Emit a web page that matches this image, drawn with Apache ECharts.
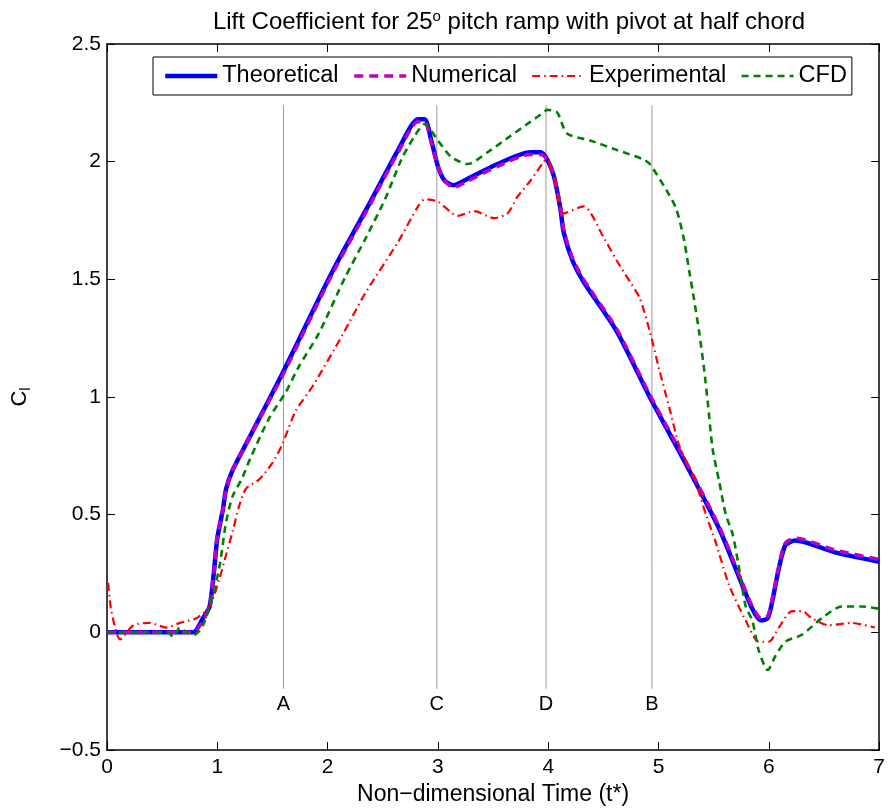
<!DOCTYPE html>
<html><head><meta charset="utf-8">
<script src="https://cdn.jsdelivr.net/npm/echarts@6/dist/echarts.min.js"></script>
<style>html,body{margin:0;padding:0;background:#fff}#c{width:888px;height:811px}</style>
</head><body><div id="c"></div>
<script>
const theoT = [0,0.5,0.78,0.87,0.93,0.97,1.0,1.05,1.08,1.14,1.26,1.59,2.04,2.40,2.64,2.82,2.88,2.94,3.0,3.06,3.14,3.24,3.54,3.84,3.93,3.99,4.05,4.11,4.14,4.22,4.32,4.62,4.92,5.22,5.55,5.70,5.85,5.93,5.99,6.03,6.09,6.15,6.24,6.60,7.0];
const theoY = [0,0,0,0.06,0.11,0.26,0.40,0.52,0.61,0.69,0.80,1.10,1.53,1.84,2.05,2.18,2.18,2.09,1.98,1.92,1.90,1.92,1.99,2.04,2.04,2.01,1.94,1.80,1.70,1.58,1.49,1.28,1.0,0.74,0.44,0.27,0.10,0.05,0.06,0.13,0.27,0.37,0.39,0.34,0.30];

const numT = [0,0.5,0.78,0.87,0.93,0.97,1.0,1.05,1.08,1.14,1.26,1.59,2.04,2.40,2.64,2.82,2.88,2.94,3.0,3.06,3.14,3.24,3.54,3.84,3.93,3.99,4.05,4.11,4.14,4.22,4.32,4.62,4.92,5.22,5.55,5.70,5.85,5.93,5.99,6.03,6.09,6.15,6.24,6.60,7.0];
const numY = [0,0,0,0.05,0.11,0.26,0.41,0.52,0.61,0.69,0.80,1.09,1.52,1.83,2.04,2.17,2.17,2.08,1.98,1.92,1.89,1.91,1.98,2.03,2.03,2.01,1.94,1.81,1.71,1.59,1.50,1.29,1.01,0.75,0.45,0.28,0.11,0.06,0.07,0.14,0.28,0.38,0.40,0.35,0.31];

const expT = [0.01,0.04,0.12,0.24,0.39,0.54,0.66,0.81,0.93,1.02,1.08,1.14,1.20,1.26,1.38,1.50,1.59,1.71,1.87,2.13,2.34,2.64,2.82,2.88,3.0,3.18,3.33,3.51,3.63,3.72,3.84,3.96,3.99,4.05,4.14,4.32,4.50,4.62,4.74,4.83,4.92,5.01,5.10,5.19,5.32,5.43,5.52,5.64,5.79,5.91,6.0,6.09,6.21,6.30,6.39,6.54,6.75,6.96];
const expY = [0.21,0.09,-0.03,0.03,0.04,0.02,0.04,0.06,0.11,0.23,0.33,0.43,0.54,0.61,0.65,0.72,0.80,0.94,1.05,1.26,1.44,1.66,1.81,1.84,1.83,1.77,1.79,1.76,1.78,1.85,1.92,2.0,2.01,1.94,1.78,1.81,1.68,1.58,1.49,1.42,1.28,1.11,0.95,0.79,0.66,0.50,0.38,0.20,0.05,-0.04,-0.04,0.02,0.09,0.09,0.06,0.03,0.04,0.02];

const cfdT = [0,0.3,0.55,0.6,0.66,0.72,0.79,0.87,0.96,1.02,1.08,1.14,1.22,1.30,1.47,1.62,1.74,1.92,2.16,2.34,2.52,2.67,2.79,2.88,3.0,3.12,3.27,3.45,3.66,3.84,3.96,3.99,4.08,4.17,4.38,4.62,4.86,4.92,5.07,5.16,5.23,5.28,5.32,5.37,5.41,5.45,5.49,5.55,5.61,5.67,5.72,5.79,5.85,5.91,5.99,6.06,6.15,6.30,6.48,6.66,6.84,7.0];
const cfdY = [0,0,0,-0.02,0.02,0.0,-0.01,0.03,0.16,0.28,0.47,0.58,0.65,0.74,0.91,1.02,1.13,1.27,1.51,1.67,1.84,2.01,2.11,2.16,2.09,2.02,1.99,2.04,2.11,2.17,2.21,2.22,2.21,2.12,2.09,2.05,2.01,1.99,1.88,1.80,1.67,1.53,1.42,1.27,1.13,0.96,0.78,0.64,0.50,0.42,0.30,0.11,0.05,-0.08,-0.16,-0.10,-0.04,-0.01,0.06,0.11,0.11,0.10];

const markerT = [1.6, 2.99, 3.98, 4.94];
const markerNames = ['A', 'C', 'D', 'B'];
const markerTop = 2.24, markerBottom = -0.24, markerLabelY = -0.305;

const FONT = 'Liberation Sans';
const zip = (a, b) => a.map((v, i) => [v, b[i]]);

const series = [
  { name: 'Theoretical', type: 'line', data: zip(theoT, theoY), showSymbol: false, symbol: 'none', smooth: 0.25,
    lineStyle: { color: '#0000FF', width: 4.5 }, itemStyle: { color: '#0000FF' }, z: 3 },
  { name: 'Numerical', type: 'line', data: zip(numT, numY), showSymbol: false, symbol: 'none', smooth: 0.25,
    lineStyle: { color: '#BF00BF', width: 3.5, type: [9, 6] }, itemStyle: { color: '#BF00BF' }, z: 4 },
  { name: 'Experimental', type: 'line', data: zip(expT, expY), showSymbol: false, symbol: 'none', smooth: 0.25,
    lineStyle: { color: '#FF0000', width: 2.2, type: [8, 4, 1.5, 4] }, itemStyle: { color: '#FF0000' }, z: 5 },
  { name: 'CFD', type: 'line', data: zip(cfdT, cfdY), showSymbol: false, symbol: 'none', smooth: 0.25,
    lineStyle: { color: '#008000', width: 2.6, type: [7, 5] }, itemStyle: { color: '#008000' }, z: 6 }
];
markerT.forEach((t) => {
  series.push({ type: 'line', data: [[t, markerBottom], [t, markerTop]], symbol: 'none', silent: true,
    lineStyle: { color: '#999999', width: 1 }, z: 1 });
});
series.push({ type: 'scatter', data: markerT.map((t, i) => [t, markerLabelY, markerNames[i]]), symbolSize: 1,
  itemStyle: { opacity: 0 }, silent: true, z: 7,
  label: { show: true, position: 'inside', formatter: p => p.data[2], color: '#000', opacity: 1,
    fontSize: 20, fontFamily: FONT } });

const chart = echarts.init(document.getElementById('c'), null, { renderer: 'canvas' });
const axisCommon = {
  axisLine: { show: true, onZero: false, lineStyle: { color: '#000', width: 1.5 } },
  axisTick: { show: true, inside: true, length: 8, lineStyle: { color: '#000', width: 1 } },
  splitLine: { show: false }
};
chart.setOption({
  animation: false,
  backgroundColor: '#fff',
  title: {
    text: 'Lift Coefficient for 25{sup|o} pitch ramp with pivot at half chord',
    left: 504, top: 4, textAlign: 'center',
    textStyle: { fontFamily: FONT, fontSize: 24, fontWeight: 'normal', color: '#000',
      rich: { sup: { fontSize: 15, verticalAlign: 'top', padding: [0, 0, 12, 0], fontFamily: FONT } } }
  },
  legend: {
    data: [
      { name: 'Theoretical', lineStyle: { width: 4.5 } },
      { name: 'Numerical', lineStyle: { width: 3.5 } },
      { name: 'Experimental', lineStyle: { width: 2.2 } },
      { name: 'CFD', lineStyle: { width: 2.6 } }
    ],
    left: 153, top: 57, orient: 'horizontal',
    itemWidth: 52, itemHeight: 14, itemGap: 14,
    padding: [7, 5, 7, 10],
    borderColor: '#000', borderWidth: 1, backgroundColor: '#fff',
    itemStyle: { opacity: 0 },
    textStyle: { fontFamily: FONT, fontSize: 23.5, color: '#000' }
  },
  grid: { left: 107, right: 4, top: 44, bottom: 59, containLabel: false },
  xAxis: [
    Object.assign({ type: 'value', min: 0, max: 7, interval: 1, position: 'bottom',
      name: 'Non\u2212dimensional Time (t*)', nameLocation: 'middle', nameGap: 33,
      nameTextStyle: { fontFamily: FONT, fontSize: 23, color: '#000' },
      axisLabel: { fontFamily: FONT, fontSize: 21, color: '#000', margin: 7 } }, axisCommon),
    Object.assign({ type: 'value', min: 0, max: 7, interval: 1, position: 'top',
      axisLabel: { show: false } }, axisCommon)
  ],
  yAxis: [
    Object.assign({ type: 'value', min: -0.5, max: 2.5, interval: 0.5, position: 'left',
      name: 'C{sub|l}', nameLocation: 'middle', nameGap: 74, nameRotate: 90,
      nameTextStyle: { fontFamily: FONT, fontSize: 22, color: '#000',
        rich: { sub: { fontSize: 15, verticalAlign: 'bottom', padding: [12, 0, 0, 0], fontFamily: FONT } } },
      axisLabel: { fontFamily: FONT, fontSize: 21, color: '#000', margin: 6,
        formatter: v => (v < 0 ? '\u2212' + Math.abs(v) : String(v)) } }, axisCommon),
    Object.assign({ type: 'value', min: -0.5, max: 2.5, interval: 0.5, position: 'right',
      axisLabel: { show: false } }, axisCommon)
  ],
  series: series
});
</script></body></html>
